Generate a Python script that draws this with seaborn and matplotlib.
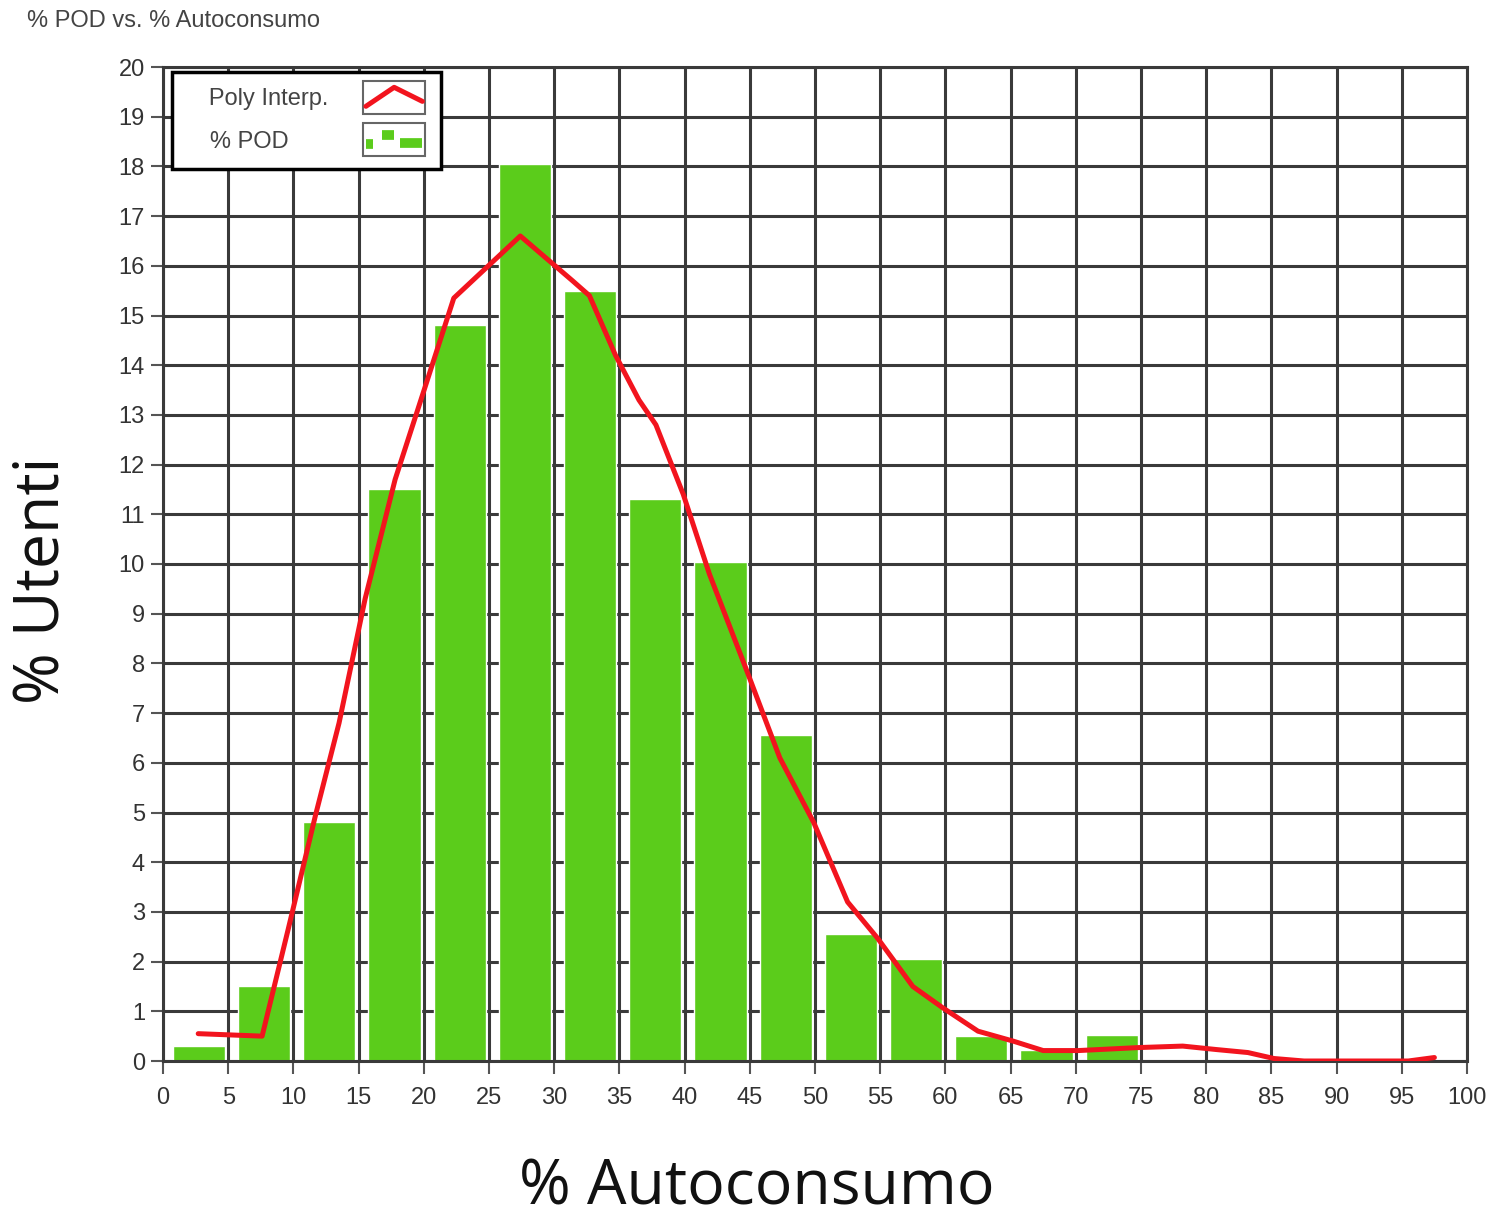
import numpy as np
import pandas as pd
import seaborn as sns
import matplotlib.pyplot as plt
from matplotlib.lines import Line2D
from matplotlib.patches import Rectangle
from matplotlib.legend_handler import HandlerBase

# histogram bins (% autoconsumo, 5-wide) and % of users in each
bin_start = [0, 5, 10, 15, 20, 25, 30, 35, 40, 45, 50, 55, 60, 65, 70, 75, 80, 85, 90, 95]
pct_pod = [0.3, 1.5, 4.8, 11.5, 14.8, 18.05, 15.5, 11.3, 10.05, 6.55,
           2.55, 2.05, 0.5, 0.23, 0.52, 0.02, 0.02, 0.02, 0.02, 0.02]

# polynomial interpolation curve
poly_x = [2.7, 7.6, 9.6, 11.7, 13.5, 15.5, 17.8, 19.9, 22.3, 27.4, 31.4, 32.7,
          34.7, 36.5, 37.8, 39.9, 41.9, 44.7, 47.3, 49.9, 52.5, 54.8, 57.5,
          59.8, 62.5, 65.2, 67.5, 70.2, 74.8, 78.2, 80.8, 83.2, 85.2, 87.5,
          95.5, 97.5]
poly_y = [0.55, 0.5, 2.65, 4.95, 6.8, 9.3, 11.7, 13.4, 15.35, 16.6, 15.7, 15.4,
          14.2, 13.3, 12.8, 11.4, 9.8, 7.9, 6.1, 4.8, 3.2, 2.47, 1.5,
          1.07, 0.6, 0.4, 0.21, 0.21, 0.27, 0.3, 0.23, 0.17, 0.05, 0.0,
          0.0, 0.07]

GREEN = '#5bcc1b'
RED = '#f2141e'
GRID = '#3a3a3a'


class IconHandler(HandlerBase):
    # little boxed icons like the original LabVIEW legend
    def create_artists(self, legend, orig_handle, xdescent, ydescent, width,
                       height, fontsize, trans):
        x0, y0 = -xdescent, -ydescent
        box = Rectangle((x0, y0 - 0.5 * height), width, height * 2.0, fill=False,
                        ec='#666666', lw=1.5, transform=trans)
        arts = [box]
        if orig_handle.get_color() == RED:
            arts.append(Line2D([x0 + 0.04 * width, x0 + 0.5 * width, x0 + 0.96 * width],
                               [y0 - 0.05 * height, y0 + 1.1 * height, y0 + 0.25 * height],
                               color=RED, lw=3.6, transform=trans))
        else:
            segs = [([0.04, 0.16], [0.2, 0.2]), ([0.3, 0.5], [0.75, 0.75]),
                    ([0.6, 0.96], [0.3, 0.3])]
            for xs, ys in segs:
                arts.append(Line2D([x0 + v * width for v in xs],
                                   [y0 + v * height for v in ys],
                                   color=GREEN, lw=7, solid_capstyle='butt',
                                   transform=trans))
        return arts


sns.set_style('white')
plt.rcParams['font.family'] = ['Liberation Sans Narrow', 'Liberation Sans', 'DejaVu Sans']

fig = plt.figure(figsize=(14.87, 12.17), dpi=100)
ax = fig.add_axes([163/1487, 1 - 1061/1217, 1304/1487, 994/1217])

bars = pd.DataFrame({'x': np.array(bin_start) + 2.75, 'pct': pct_pod})
sns.barplot(data=bars, x='x', y='pct', native_scale=True, width=0.8,
            color=GREEN, saturation=1, ax=ax, zorder=2)
sns.lineplot(x=poly_x, y=poly_y, sort=False, color=RED, lw=3.6, ax=ax, zorder=3)

ax.set_xlim(0, 100)
ax.set_ylim(0, 20)
ax.set_xticks(range(0, 101, 5))
ax.set_xticks(range(0, 101, 1), minor=True)
ax.set_yticks(range(0, 21))
ax.set_axisbelow(True)
ax.grid(True, which='major', color=GRID, lw=2.2)
ax.tick_params(axis='both', which='major', direction='out', length=9, width=1.5,
               color='#555555', labelsize=17, labelcolor='#333333')
ax.tick_params(axis='x', which='major', pad=10)
ax.tick_params(axis='y', which='major', pad=4)
ax.tick_params(axis='x', which='minor', direction='out', length=5, width=1,
               color='#777777')
ax.tick_params(left=True, bottom=True)
for s in ax.spines.values():
    s.set_color(GRID)
    s.set_linewidth(2.2)
ax.set_xlabel('')
ax.set_ylabel('')

handles = [Line2D([0], [0], color=RED), Line2D([0], [0], color=GREEN)]
labels = ['   Poly Interp.', '   % POD' + ' ' * 6]
leg = ax.legend(handles, labels, loc='upper left', handler_map={Line2D: IconHandler()},
                bbox_to_anchor=(0.007, 0.995), borderaxespad=0, markerfirst=False,
                fontsize=17, frameon=True, fancybox=False, handlelength=2.6,
                labelspacing=0.85, borderpad=0.7, handletextpad=1.5)
leg.get_frame().set_edgecolor('black')
leg.get_frame().set_linewidth(2.5)
leg.get_frame().set_alpha(1)
for t in leg.get_texts():
    t.set_color('#444444')

fig.text(27/1487, 1 - 21/1217, '% POD vs. % Autoconsumo', fontsize=17,
         color='#444444', ha='left', va='center')
fig.text(757/1487, 1 - 1188/1217, '% Autoconsumo', fontsize=45,
         family=['Open Sans', 'DejaVu Sans'], ha='center', va='center', color='#111111')
fig.text(42/1487, 1 - 580/1217, '% Utenti', fontsize=45, rotation=90,
         family=['Open Sans', 'DejaVu Sans'], ha='center', va='center', color='#111111')

fig.savefig('out.png', dpi=100)
